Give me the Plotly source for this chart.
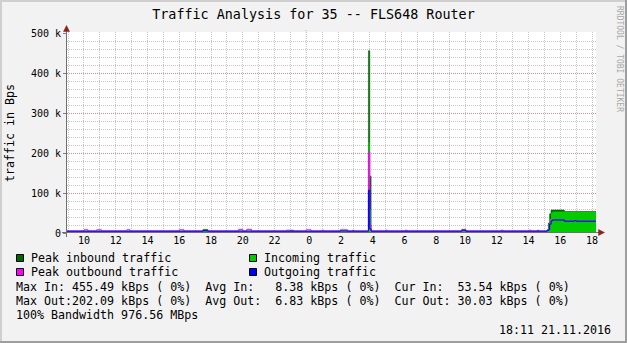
import plotly.graph_objects as go

# ---------------- data (hours relative to midnight, values in kBps) ----------------
times = [-15.07, -14.0, -13.75, -13.2, -12.9, -11.3, -11.1, -8.0, -7.7, -6.5, -6.2,
         -4.25, -4.0, -3.75, -3.45, -1.25, -1.0, -0.8, 0.0, 0.3, 1.0, 1.1, 2.15, 2.6,
         2.92, 3.0, 3.917, 4.0, 4.083, 5.0, 5.1, 6.25, 6.35, 9.8, 10.05, 12.3, 12.4,
         14.05, 14.15, 14.55, 14.65, 15.17, 15.25, 15.33, 15.42, 15.5, 16.25, 16.9,
         17.0, 18.25]
incoming = [4, 4, 4, 4, 4, 4, 4, 4, 4, 4.5, 4, 4, 4, 4, 4, 4, 4.5, 4, 4, 4, 4, 4, 4, 4,
            4.5, 4, 227, 60, 4, 4, 4, 4, 4, 5, 4, 4, 4, 4, 4, 4.5, 4, 5, 12, 35, 50, 54,
            52.5, 52.5, 52.5, 53.54]
outgoing = [4.6, 4.6, 4.6, 4.6, 4.6, 4.6, 4.6, 4.6, 4.6, 6, 4.6, 5, 4.6, 5, 4.6, 4.6,
            4.6, 4.6, 4.6, 4.6, 4.6, 4.6, 5.5, 4.6, 4.6, 4.6, 107, 10, 4.6, 4.6, 4.6,
            4.6, 4.6, 7, 4.6, 4.6, 4.6, 4.6, 4.6, 4.6, 4.6, 6, 8, 22, 30, 32.5, 29.5,
            31, 29.5, 30.03]
peak_in = [4.5, 4.5, 4.5, 4.5, 4.5, 4.5, 4.5, 4.5, 4.5, 9, 4.5, 4.5, 4.5, 4.5, 4.5,
           4.5, 7, 4.5, 4.5, 4.5, 4.5, 4.5, 4.5, 4.5, 7, 4.5, 455.49, 142, 4.5, 4.5,
           4.5, 4.5, 4.5, 6, 4.5, 4.5, 4.5, 4.5, 4.5, 7, 4.5, 8, 25, 48, 57.5, 57.5,
           53.5, 53.5, 53.5, 54]
peak_out = [5, 8, 5, 8, 5, 8, 5, 8, 5, 6, 5, 9, 5, 9, 5, 7, 5, 5, 8, 5, 7, 5, 8, 5,
            5, 5, 202.09, 20, 5, 7, 5, 7, 5, 9, 5, 7, 5, 7, 5, 5, 5, 7, 10, 24, 32,
            33, 30, 31.5, 30, 30.5]

hour_ticks = list(range(-15, 19))
tick_labels = {-14: "10", -12: "12", -10: "14", -8: "16", -6: "18", -4: "20", -2: "22",
               0: " 0", 2: " 2", 4: " 4", 6: " 6", 8: " 8", 10: "10", 12: "12",
               14: "14", 16: "16", 18: "18"}
y_ticks = [0, 100, 200, 300, 400, 500]
y_labels = ["0", "100 k", "200 k", "300 k", "400 k", "500 k"]

title_text = "Traffic Analysis for 35 -- FLS648 Router"
y_title = "traffic in Bps"
legend_items = [("Peak inbound traffic", "#006600"), ("Incoming traffic", "#00CC00"),
                ("Peak outbound traffic", "#FF00FF"), ("Outgoing traffic", "#0000FF")]
stat_lines = ["Max In: 455.49 kBps ( 0%)  Avg In:   8.38 kBps ( 0%)  Cur In:  53.54 kBps ( 0%)",
              "Max Out:202.09 kBps ( 0%)  Avg Out:  6.83 kBps ( 0%)  Cur Out: 30.03 kBps ( 0%)",
              "100% Bandwidth 976.56 MBps"]
stamp = "18:11 21.11.2016"
watermark = "RRDTOOL / TOBI OETIKER"

# ---------------- geometry ----------------
W, H = 627, 343
L, R, T, B = 67, 596, 32, 233
PW, PH = R - L, B - T
X_RANGE = [-15.07, 18.25]
Y_RANGE = [0, PH / 0.4 * 1000]
MONO = "DejaVu Sans Mono"


def px(x):
    return (x - L) / PW


def py(y):
    return (B - y) / PH


def nb(s):
    return s.replace(" ", "\u00a0")


k = lambda arr: [v * 1000 for v in arr]

fig = go.Figure()
fig.add_trace(go.Scatter(x=times, y=k(peak_in), mode="lines", line_shape="hv",
                         line=dict(width=0.6, color="#006600"), fill="tozeroy",
                         fillcolor="#006600", hoverinfo="skip"))
fig.add_trace(go.Scatter(x=times, y=k(incoming), mode="lines", line_shape="hv",
                         line=dict(width=0, color="#00CC00"), fill="tozeroy",
                         fillcolor="#00CC00", hoverinfo="skip"))
fig.add_trace(go.Scatter(x=times, y=k(peak_out), mode="lines", line_shape="hv",
                         line=dict(width=1, color="#FF00FF"), hoverinfo="skip"))
fig.add_trace(go.Scatter(x=times, y=k(outgoing), mode="lines", line_shape="hv",
                         line=dict(width=1, color="#0000FF"), hoverinfo="skip"))

GRID = "#C8C8C8"
MGRID = "rgba(222,80,80,0.5)"
fig.update_layout(
    width=W, height=H,
    margin=dict(l=L, r=W - R, t=T, b=H - B, pad=0),
    paper_bgcolor="#F2F2F2", plot_bgcolor="#FFFFFF",
    showlegend=False,
    font=dict(family=MONO, color="#000000", size=10),
    title=dict(text=title_text, x=0.5, xref="container", xanchor="center",
               y=1 - 14 / H, yref="container", yanchor="middle",
               font=dict(family=MONO, size=13.4, color="#000000")),
    xaxis=dict(range=X_RANGE, tickmode="array", tickvals=hour_ticks,
               ticktext=[nb(tick_labels.get(h, "")) for h in hour_ticks],
               showgrid=True, gridcolor=GRID, griddash="1px,1px", gridwidth=1,
               ticks="", showline=False,
               zeroline=False, tickfont=dict(family=MONO, size=10, color="#000000"),
               fixedrange=True),
    yaxis=dict(range=Y_RANGE, tickmode="array", tickvals=[v * 1000 for v in y_ticks],
               ticktext=[nb(s) for s in y_labels],
               showgrid=True, gridcolor=MGRID, griddash="1px,1px", gridwidth=1,
               minor=dict(dtick=20000, tick0=0, showgrid=True, gridcolor=GRID,
                          griddash="1px,1px", ticks=""),
               ticks="outside", ticklen=3, tickcolor="#808080", showline=False,
               zeroline=False, tickfont=dict(family=MONO, size=10, color="#000000"),
               fixedrange=True),
)

shapes = []
# midnight major grid line
shapes.append(dict(type="line", xref="x", yref="paper", x0=0, x1=0, y0=0, y1=py(30),
                   line=dict(color=MGRID, width=1, dash="1px,1px"), layer="between"))
AX = "#707070"
ARROW = "#8B2020"
# axes
shapes.append(dict(type="line", xref="paper", yref="paper", x0=px(66.5), x1=px(66.5),
                   y0=py(237), y1=py(29), line=dict(color=AX, width=1), layer="above"))
shapes.append(dict(type="line", xref="paper", yref="paper", x0=px(62), x1=px(600),
                   y0=py(232.5), y1=py(232.5), line=dict(color=AX, width=1), layer="above"))
# arrow heads
shapes.append(dict(type="path", xref="paper", yref="paper",
                   path=f"M {px(63.5)} {py(31.5)} L {px(69.5)} {py(31.5)} L {px(66.5)} {py(25.5)} Z",
                   fillcolor=ARROW, line=dict(color=ARROW, width=0.5), layer="above"))
shapes.append(dict(type="path", xref="paper", yref="paper",
                   path=f"M {px(598.5)} {py(229.5)} L {px(598.5)} {py(235.5)} L {px(604.5)} {py(232.5)} Z",
                   fillcolor=ARROW, line=dict(color=ARROW, width=0.5), layer="above"))
# frame
shapes.append(dict(type="rect", xref="paper", yref="paper", x0=px(0), x1=px(2), y0=py(0), y1=py(H),
                   fillcolor="#CFCFCF", line=dict(width=0), layer="above"))
shapes.append(dict(type="rect", xref="paper", yref="paper", x0=px(0), x1=px(W), y0=py(0), y1=py(2),
                   fillcolor="#CFCFCF", line=dict(width=0), layer="above"))
shapes.append(dict(type="rect", xref="paper", yref="paper", x0=px(W - 2), x1=px(W), y0=py(0), y1=py(H),
                   fillcolor="#9E9E9E", line=dict(width=0), layer="above"))
shapes.append(dict(type="rect", xref="paper", yref="paper", x0=px(0), x1=px(W), y0=py(H - 2), y1=py(H),
                   fillcolor="#9E9E9E", line=dict(width=0), layer="above"))

annotations = []
LEG_FONT = 11.65
row_y = [258, 272, 287, 301, 315, 330]
col_sq = [16, 249]
for i, (name, col) in enumerate(legend_items):
    r = i // 2
    c = i % 2
    yc = row_y[r]
    x0 = col_sq[c]
    shapes.append(dict(type="rect", xref="paper", yref="paper",
                       x0=px(x0 + 0.5), x1=px(x0 + 7.5), y0=py(yc + 3.5), y1=py(yc - 3.5),
                       fillcolor=col, line=dict(color="#000000", width=1), layer="above"))
    annotations.append(dict(text=nb(name), xref="paper", yref="paper", x=px(x0 + 13),
                            y=py(yc), xanchor="left", yanchor="middle", showarrow=False,
                            font=dict(family=MONO, size=LEG_FONT, color="#000000")))
for j, line in enumerate(stat_lines):
    annotations.append(dict(text=nb(line), xref="paper", yref="paper", x=px(14),
                            y=py(row_y[2 + j]), xanchor="left", yanchor="middle",
                            showarrow=False,
                            font=dict(family=MONO, size=LEG_FONT, color="#000000")))
annotations.append(dict(text=nb(stamp), xref="paper", yref="paper", x=px(613),
                        y=py(row_y[5]), xanchor="right", yanchor="middle", showarrow=False,
                        font=dict(family=MONO, size=LEG_FONT, color="#000000")))
annotations.append(dict(text=nb(y_title), xref="paper", yref="paper", x=px(10),
                        y=py(133), xanchor="center", yanchor="middle", showarrow=False,
                        textangle=-90,
                        font=dict(family=MONO, size=LEG_FONT, color="#000000")))
annotations.append(dict(text=nb(watermark), xref="paper", yref="paper", x=px(619),
                        y=py(4), xanchor="center", yanchor="top", showarrow=False,
                        textangle=90,
                        font=dict(family=MONO, size=8, color="#A8A8A8")))

fig.update_layout(shapes=shapes, annotations=annotations)
fig.write_html("out.html")
